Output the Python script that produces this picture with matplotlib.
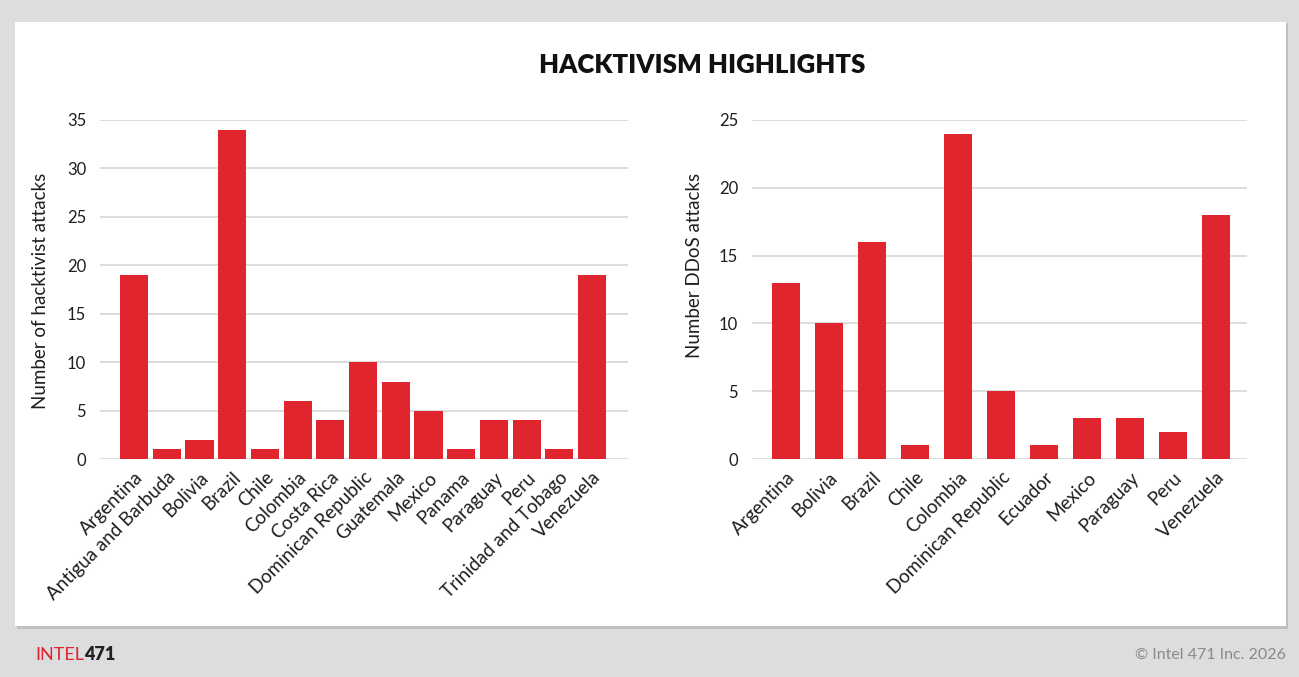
import matplotlib.pyplot as plt
import matplotlib.patches as patches
import matplotlib.transforms as mtransforms

# ---------- DATA ----------
hack_countries = ["Argentina", "Antigua and Barbuda", "Bolivia", "Brazil", "Chile",
                  "Colombia", "Costa Rica", "Dominican Republic", "Guatemala", "Mexico",
                  "Panama", "Paraguay", "Peru", "Trinidad and Tobago", "Venezuela"]
hack_values = [19, 1, 2, 34, 1, 6, 4, 10, 8, 5, 1, 4, 4, 1, 19]

ddos_countries = ["Argentina", "Bolivia", "Brazil", "Chile", "Colombia",
                  "Dominican Republic", "Ecuador", "Mexico", "Paraguay", "Peru", "Venezuela"]
ddos_values = [13, 10, 16, 1, 24, 5, 1, 3, 3, 2, 18]

# ---------- STYLE ----------
plt.rcParams['font.family'] = ['Lato', 'DejaVu Sans']
RED = "#e0252f"
GRID = "#d3d3d3"
TEXT = "#1e1e1e"
W, H = 1299, 677

fig = plt.figure(figsize=(W / 100, H / 100), dpi=100)
fig.patch.set_facecolor("#dcdddf")

# white card with soft shadow
fig.patches.append(patches.Rectangle((17 / W, (H - 629) / H), 1271 / W, 606 / H,
                                     transform=fig.transFigure, facecolor="#bfc0c2",
                                     edgecolor="none", zorder=-2))
fig.patches.append(patches.Rectangle((15 / W, (H - 626) / H), 1271 / W, 604 / H,
                                     transform=fig.transFigure, facecolor="white",
                                     edgecolor="none", zorder=-1))


def px_axes(x0, x1, y_top, y_bot):
    return fig.add_axes([x0 / W, (H - y_bot) / H, (x1 - x0) / W, (y_bot - y_top) / H])


def style_bar_axes(ax, cats, vals, width, xlim, ymax, step):
    x = range(len(cats))
    ax.patch.set_alpha(0)
    ax.bar(x, vals, width=width, color=RED, zorder=3)
    ax.set_xlim(*xlim)
    ax.set_ylim(0, ymax)
    ax.set_yticks(range(0, ymax + 1, step))
    ax.yaxis.grid(True, color=GRID, linewidth=1.1, zorder=0)
    ax.set_axisbelow(True)
    for s in ax.spines.values():
        s.set_visible(False)
    ax.tick_params(axis='y', length=0, labelsize=12, colors=TEXT, pad=10)
    ax.set_xticks(list(x))
    ax.set_xticklabels(cats, rotation=45, ha='right', va='top', rotation_mode='anchor',
                       fontsize=13.5, color=TEXT)
    offset = mtransforms.ScaledTranslation(7 / 100, 0, fig.dpi_scale_trans)
    for lbl in ax.get_xticklabels():
        lbl.set_transform(lbl.get_transform() + offset)
    ax.tick_params(axis='x', length=0, pad=7)


ax1 = px_axes(100, 628, 120, 459)
style_bar_axes(ax1, hack_countries, hack_values, 0.86, (-1.04, 15.1), 35, 5)

ax2 = px_axes(752, 1247, 120, 459)
style_bar_axes(ax2, ddos_countries, ddos_values, 0.67, (-0.79, 10.72), 25, 5)

fig.text(41 / W, 1 - 291 / H, "Number of hacktivist attacks", rotation=90,
         ha='center', va='center', fontsize=13.5, color=TEXT)
fig.text(694 / W, 1 - 265 / H, "Number DDoS attacks", rotation=90,
         ha='center', va='center', fontsize=13.5, color=TEXT)

fig.text(702 / W, 1 - 65 / H, "HACKTIVISM HIGHLIGHTS", ha='center', va='center',
         fontsize=18.5, fontweight='heavy', color="#111111")

# footer logo and copyright
logo = fig.text(35 / W, 1 - 655 / H, "INTEL", ha='left', va='center', fontsize=13,
                color=RED)
fig.add_artist(plt.Annotation("471", xy=(1, 0.5), xycoords=logo, ha='left', va='center',
                              fontsize=13, fontweight='heavy', color="#222222"))
fig.text(1286 / W, 1 - 655 / H, "\u00a9 Intel 471 Inc. 2026", ha='right', va='center',
         fontsize=11.5, color="#8a8a8a")

fig.savefig("out.png", dpi=100, facecolor=fig.get_facecolor())
